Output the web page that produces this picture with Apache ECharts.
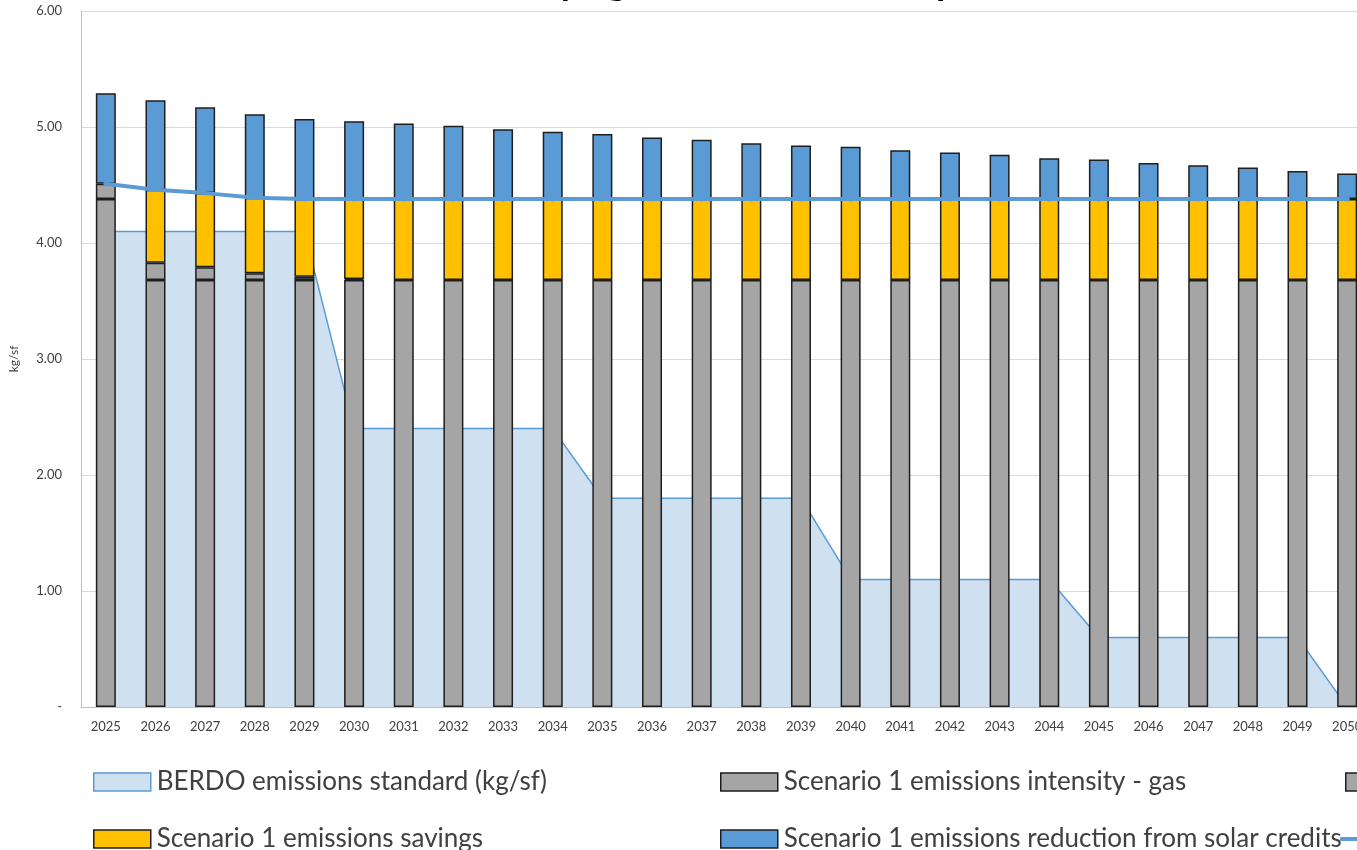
<!DOCTYPE html>
<html>
<head>
<meta charset="utf-8">
<script src="https://cdn.jsdelivr.net/npm/echarts@6/dist/echarts.min.js"></script>
<style>
  html, body { margin: 0; padding: 0; background: #fff; overflow: hidden; }
  #chart { width: 1372px; height: 850px; }
</style>
</head>
<body>
<div id="chart"></div>
<script>
// Years on the category axis
const years = ['2025','2026','2027','2028','2029','2030','2031','2032','2033','2034','2035','2036','2037','2038','2039','2040','2041','2042','2043','2044','2045','2046','2047','2048','2049','2050'];

// BERDO emissions standard (kg/sf)
const berdoStandard = [4.10,4.10,4.10,4.10,4.10,2.40,2.40,2.40,2.40,2.40,1.80,1.80,1.80,1.80,1.80,1.10,1.10,1.10,1.10,1.10,0.60,0.60,0.60,0.60,0.60,0.00];

// Scenario 1 stacked components (kg/sf)
const gasIntensity = [4.38,3.68,3.68,3.68,3.68,3.68,3.68,3.68,3.68,3.68,3.68,3.68,3.68,3.68,3.68,3.68,3.68,3.68,3.68,3.68,3.68,3.68,3.68,3.68,3.68,3.68];
const elecIntensity = [0.13,0.15,0.11,0.06,0.03,0.01,0,0,0,0,0,0,0,0,0,0,0,0,0,0,0,0,0,0,0,0];
const emissionsSavings = [0,0.63,0.64,0.65,0.67,0.69,0.70,0.70,0.70,0.70,0.70,0.70,0.70,0.70,0.70,0.70,0.70,0.70,0.70,0.70,0.70,0.70,0.70,0.70,0.70,0.70];
const solarCredits = [0.78,0.77,0.74,0.72,0.69,0.67,0.65,0.63,0.60,0.58,0.56,0.53,0.51,0.48,0.46,0.45,0.42,0.40,0.38,0.35,0.34,0.31,0.29,0.27,0.24,0.22];

// Scenario 1 emissions before solar credits
const scenarioLine = [4.51,4.46,4.43,4.39,4.38,4.38,4.38,4.38,4.38,4.38,4.38,4.38,4.38,4.38,4.38,4.38,4.38,4.38,4.38,4.38,4.38,4.38,4.38,4.38,4.38,4.38];

const NAMES = {
  berdo: 'BERDO emissions standard (kg/sf)',
  gas: 'Scenario 1 emissions intensity - gas',
  elec: 'Scenario 1 emissions intensity - electricity',
  savings: 'Scenario 1 emissions savings',
  solar: 'Scenario 1 emissions reduction from solar credits',
  line: 'Scenario 1 emissions after savings'
};

const COLORS = {
  blue: '#5B9BD5',
  areaFill: '#CFE0F1',
  gray: '#A5A5A5',
  yellow: '#FFC000',
  border: '#1E1E1E'
};

const FONT = 'Lato, "Open Sans", sans-serif';
const skipZero = arr => arr.map(v => (v === 0 ? '-' : v));

const barStyle = c => ({ color: c, borderColor: COLORS.border, borderWidth: 1.5 });

function legendBox(name, left, centerY, style) {
  return {
    left: left, top: centerY - 13, padding: 0, itemGap: 0,
    itemWidth: 57, itemHeight: 18,
    textStyle: { fontFamily: FONT, fontSize: 26, color: '#404040', padding: [0, 0, 0, 1] },
    selectedMode: false,
    data: [{ name: name, icon: 'rect', itemStyle: style }]
  };
}

const chart = echarts.init(document.getElementById('chart'), null, { renderer: 'canvas' });

chart.setOption({
  animation: false,
  backgroundColor: '#fff',
  title: {
    text: 'Emissions Intensity against BERDO Compliance',
    left: 250, top: -41,
    textStyle: { fontFamily: FONT, fontSize: 38, fontWeight: 'bold', color: '#000' }
  },
  grid: { left: 81, right: 0, top: 11, bottom: 143, containLabel: false },
  legend: [
    legendBox(NAMES.berdo, 93, 782, { color: COLORS.areaFill, borderColor: COLORS.blue, borderWidth: 1.5 }),
    legendBox(NAMES.savings, 93, 839, barStyle(COLORS.yellow)),
    legendBox(NAMES.gas, 720, 782, barStyle(COLORS.gray)),
    legendBox(NAMES.solar, 720, 839, barStyle(COLORS.blue)),
    legendBox(NAMES.elec, 1345, 782, barStyle(COLORS.gray)),
    {
      left: 1340, top: 826, padding: 0, itemWidth: 30, itemHeight: 4,
      textStyle: { fontFamily: FONT, fontSize: 26, color: '#404040' },
      selectedMode: false,
      data: [{ name: NAMES.line, icon: 'roundRect', itemStyle: { color: COLORS.blue, borderWidth: 0 } }]
    }
  ],
  xAxis: {
    type: 'category',
    data: years,
    boundaryGap: true,
    axisLine: { show: true, lineStyle: { color: '#BFBFBF', width: 1 } },
    axisTick: { show: false },
    axisLabel: { fontFamily: FONT, fontSize: 13, color: '#404040', margin: 13, interval: 0 }
  },
  yAxis: {
    type: 'value',
    min: 0, max: 6, interval: 1,
    name: 'kg/sf',
    nameLocation: 'middle',
    nameGap: 61,
    nameRotate: 90,
    nameTextStyle: { fontFamily: FONT, fontSize: 12, color: '#404040' },
    axisLine: { show: true, lineStyle: { color: '#BFBFBF', width: 1 } },
    axisTick: { show: false },
    splitLine: { show: true, lineStyle: { color: '#D9D9D9', width: 1 } },
    axisLabel: {
      fontFamily: FONT, fontSize: 13, color: '#404040', margin: 19,
      formatter: v => (v === 0 ? '-' : v.toFixed(2))
    }
  },
  series: [
    {
      name: NAMES.berdo,
      type: 'line',
      data: berdoStandard,
      symbol: 'none',
      z: 1,
      lineStyle: { color: COLORS.blue, width: 1.5 },
      itemStyle: { color: COLORS.areaFill },
      areaStyle: { color: COLORS.areaFill, opacity: 1 }
    },
    {
      name: NAMES.gas, type: 'bar', stack: 's1', barWidth: 20, z: 3,
      data: skipZero(gasIntensity), itemStyle: barStyle(COLORS.gray)
    },
    {
      name: NAMES.elec, type: 'bar', stack: 's1', barWidth: 20, z: 3,
      data: skipZero(elecIntensity), itemStyle: barStyle(COLORS.gray)
    },
    {
      name: NAMES.savings, type: 'bar', stack: 's1', barWidth: 20, z: 3,
      data: skipZero(emissionsSavings), itemStyle: barStyle(COLORS.yellow)
    },
    {
      name: NAMES.solar, type: 'bar', stack: 's1', barWidth: 20, z: 3,
      data: skipZero(solarCredits), itemStyle: barStyle(COLORS.blue)
    },
    {
      name: NAMES.line,
      type: 'line',
      data: scenarioLine,
      z: 5,
      symbol: 'circle', symbolSize: 5,
      lineStyle: { color: COLORS.blue, width: 4 },
      itemStyle: { color: COLORS.blue }
    }
  ]
});
</script>
</body>
</html>
